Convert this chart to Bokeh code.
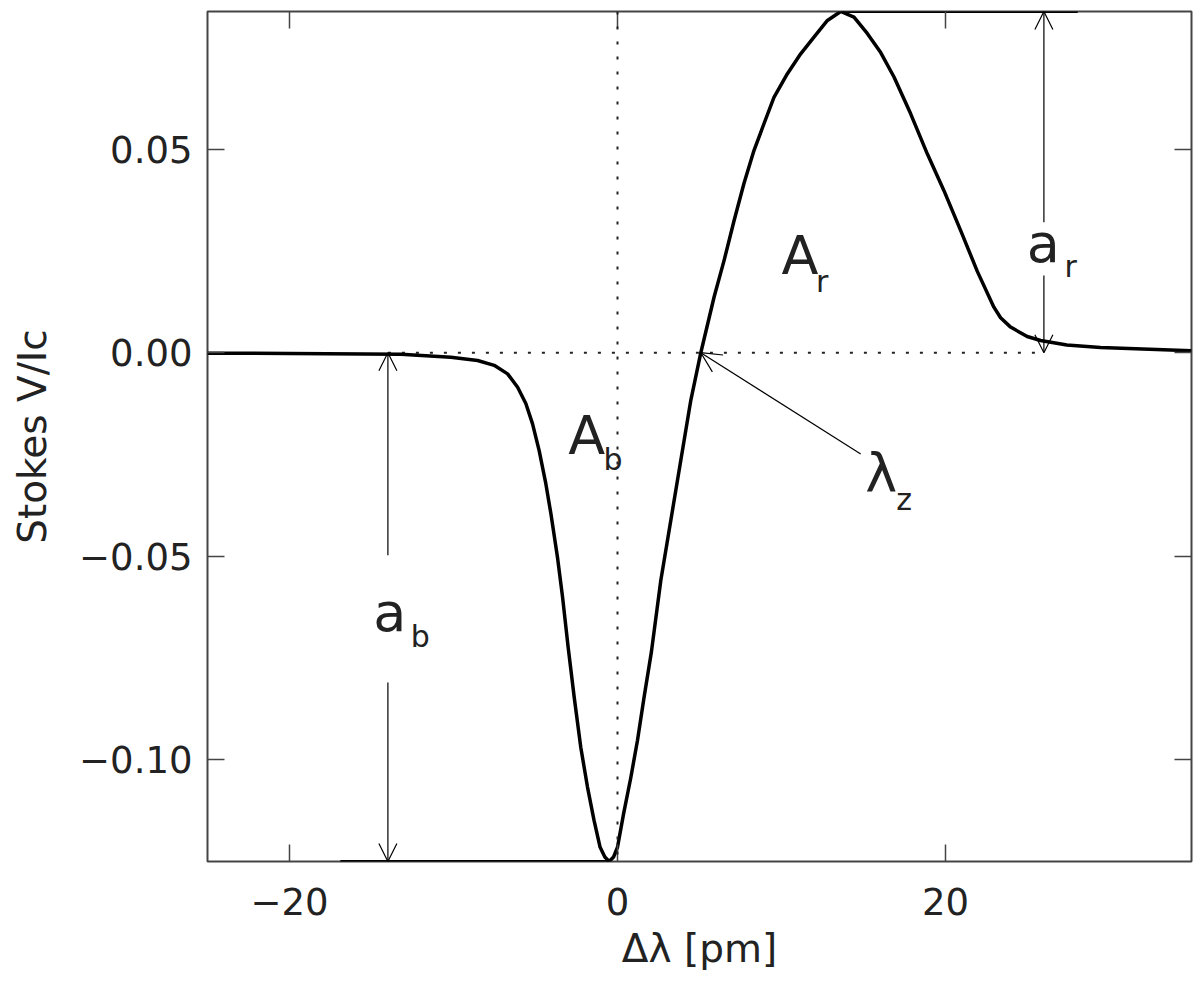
import numpy as np
from bokeh.plotting import figure
from bokeh.models import (Range1d, FixedTicker, LinearAxis, Arrow, OpenHead,
                          Label, Span)
from bokeh.embed import file_html
from bokeh.resources import INLINE

# ---- data ----
dlambda = [-25.0, -20.0, -13.21, -10.16, -8.53, -7.52, -6.70, -6.09, -5.59,
           -5.18, -4.78, -4.37, -4.06, -3.66, -3.35, -3.01, -2.64,
           -2.24, -1.83, -1.43, -1.06, -0.77, -0.51, -0.24, 0.0, 0.37, 0.81,
           1.22, 1.62, 2.07, 2.64, 4.47, 5.08, 5.89, 6.50, 7.11, 7.71, 8.32,
           8.93, 9.54, 10.36, 11.17, 11.98, 12.80, 13.61, 14.42, 15.23,
           16.05, 16.86, 17.87, 18.89, 19.90, 20.92, 21.94, 22.95, 23.36,
           23.97, 24.98, 25.80, 27.40, 29.45, 35.0]
stokes_v = [-0.0001, -0.0002, -0.0004, -0.0011, -0.0019, -0.0031, -0.0052,
            -0.0085, -0.0125, -0.0175, -0.0240, -0.0322, -0.0396, -0.0503,
            -0.0601, -0.0724, -0.0847, -0.0970, -0.1068, -0.1150,
            -0.1216, -0.1240, -0.1251, -0.1240, -0.1216, -0.1134, -0.1045,
            -0.0953, -0.0847, -0.0735, -0.0560, -0.0117, 0.0, 0.0137, 0.0227,
            0.0325, 0.0416, 0.0497, 0.0563, 0.0628, 0.0686, 0.0735, 0.0776,
            0.0817, 0.0839, 0.0825, 0.0785, 0.0738, 0.0678, 0.0588, 0.0489,
            0.0399, 0.0301, 0.0200, 0.0112, 0.0086, 0.0063, 0.0040, 0.0030,
            0.0019, 0.0013, 0.0005]

x_ticks = [-20, 0, 20]
x_tick_labels = ["\u221220", "0", "20"]
y_ticks = [-0.10, -0.05, 0.0, 0.05]
y_tick_labels = ["\u22120.10", "\u22120.05", "0.00", "0.05"]

x_label = "\u0394\u03bb [pm]"
y_label = "Stokes V/Ic"

# annotation anchors (wavelength positions of the amplitude arrows)
ab_x = -14.0
ar_x = 26.0
min_line_start = -16.9
max_line_end = 28.06

FONT = "DejaVu Sans"
AX = "#444444"

x = np.array(dlambda)
v = np.array(stokes_v)
vmin, vmax = float(v.min()), float(v.max())
xmin_pos = float(x[np.argmin(v)])
xmax_pos = float(x[np.argmax(v)])
# zero crossing on the rising flank
i0 = int(np.argmin(v))
i1 = int(np.argmax(v))
xz = float(np.interp(0.0, v[i0:i1 + 1], x[i0:i1 + 1]))

p = figure(frame_width=984, frame_height=850,
           x_range=Range1d(-25, 35), y_range=Range1d(vmin, vmax),
           output_backend="svg", toolbar_location=None,
           min_border_left=207, min_border_top=11, min_border_right=9,
           min_border_bottom=0)
p.xgrid.visible = False
p.ygrid.visible = False
p.outline_line_color = AX
p.outline_line_width = 2
p.background_fill_color = "white"
p.border_fill_color = "white"


def style_axis(ax, ticks, labels=None):
    ax.ticker = FixedTicker(ticks=ticks, minor_ticks=[])
    ax.axis_line_color = None
    ax.major_tick_in = 17
    ax.major_tick_out = 0
    ax.major_tick_line_color = AX
    ax.major_tick_line_width = 1.5
    ax.minor_tick_line_color = None
    if labels is not None:
        ax.major_label_overrides = dict(zip(ticks, labels))
        ax.major_label_text_font = FONT
        ax.major_label_text_font_size = "37px"
        ax.major_label_text_color = "#222222"
        ax.axis_label_text_font = FONT
        ax.axis_label_text_font_size = "39px"
        ax.axis_label_text_font_style = "normal"
        ax.axis_label_text_color = "#222222"
    else:
        ax.major_label_text_font_size = "0px"
        ax.major_label_text_color = None
        ax.major_label_standoff = 0


xa = p.xaxis[0]
style_axis(xa, x_ticks, x_tick_labels)
xa.axis_label = x_label
xa.major_label_standoff = 26
xa.axis_label_standoff = 8

ya = p.yaxis[0]
style_axis(ya, y_ticks, y_tick_labels)
ya.axis_label = y_label
ya.major_label_standoff = 15
ya.axis_label_standoff = 21

top_ax = LinearAxis()
style_axis(top_ax, x_ticks)
p.add_layout(top_ax, "above")
right_ax = LinearAxis()
style_axis(right_ax, y_ticks)
p.add_layout(right_ax, "right")

# dotted reference lines
p.add_layout(Span(location=0, dimension="height", line_color="#222222",
                  line_width=2, line_dash="3 12"))
p.line([ab_x, ar_x], [0, 0], line_color="#222222", line_width=2,
       line_dash="3 11")

# min / max horizontal lines
p.line([min_line_start, xmin_pos], [vmin, vmin], line_color="black", line_width=3)
p.line([xmax_pos, max_line_end], [vmax, vmax], line_color="black", line_width=3)

# profile
p.line(x, v, line_color="black", line_width=3.5, line_join="round")


# amplitude arrows (gap for label)
def arrow(x0, y0, x1, y1, size=18):
    p.add_layout(Arrow(end=OpenHead(size=size, line_width=1.2, line_color="black"),
                       x_start=x0, y_start=y0, x_end=x1, y_end=y1,
                       line_width=1.2, line_color="black"))


arrow(ab_x, -0.0498, ab_x, 0.0)
arrow(ab_x, -0.0811, ab_x, vmin)
arrow(ar_x, 0.0321, ar_x, vmax)
arrow(ar_x, 0.0190, ar_x, 0.0)
arrow(14.83, -0.0249, xz, 0.0, size=20)


# labels with subscripts
def lab(xp, yp, t, size):
    p.add_layout(Label(x=xp, y=yp, text=t, text_font=FONT,
                       text_font_size=size, text_color="#222222",
                       text_align="left", text_baseline="alphabetic"))


BIG = "54px"
SUB = "30px"
lab(-3.0, -0.0204, "A", BIG)
lab(-0.85, -0.0262, "b", SUB)
lab(10.0, 0.0239, "A", BIG)
lab(12.1, 0.0176, "r", SUB)
lab(15.1, -0.0297, "\u03bb", BIG)
lab(17.0, -0.0360, "z", SUB)
lab(-14.9, -0.0639, "a", BIG)
lab(-12.6, -0.0697, "b", SUB)
lab(24.95, 0.0269, "a", BIG)
lab(27.25, 0.0211, "r", SUB)

open("out.html", "w").write(file_html(p, INLINE))
